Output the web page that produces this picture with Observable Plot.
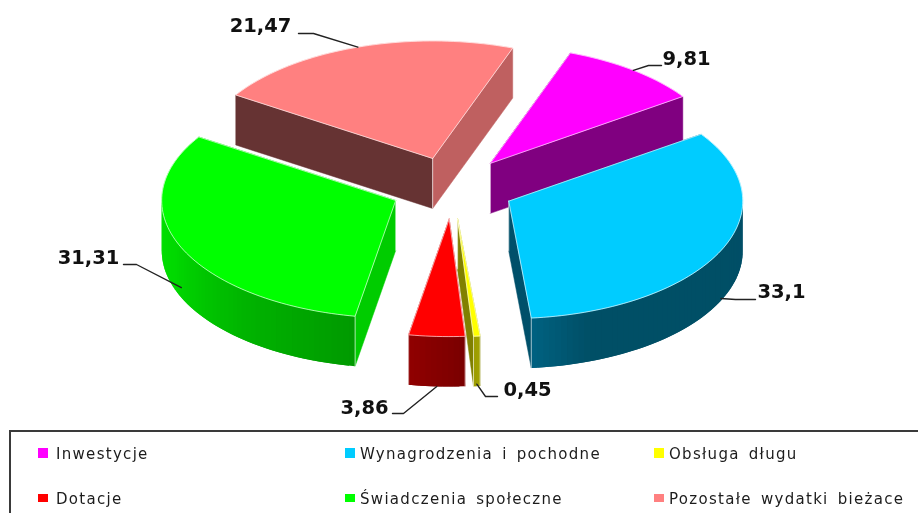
<!DOCTYPE html>
<html lang="pl">
<head>
<meta charset="utf-8">
<script src="https://cdn.jsdelivr.net/npm/d3@7"></script>
<script src="https://cdn.jsdelivr.net/npm/@observablehq/plot@0.6"></script>
<style>
html,body{margin:0;padding:0;background:#fff;overflow:hidden}
#wrap{position:relative;width:918px;height:513px;overflow:hidden;filter:blur(0.4px)}
#wrap svg{display:block;position:absolute;left:0;top:0}
#legend{position:absolute;left:9px;top:430px;width:930px;height:90px;border:2px solid #3a3a3a;box-sizing:border-box;background:#fff;
 font:15px "DejaVu Sans",sans-serif;color:#1c1c1c;letter-spacing:1.3px;word-spacing:3px}
.sw{position:absolute;width:10px;height:10px}
.lb{position:absolute;white-space:nowrap;line-height:18px}
</style>
</head>
<body>
<div id="wrap"></div>
<script>
// ---- data ----
const categories = ["Inwestycje","Wynagrodzenia i pochodne","Obsługa długu","Dotacje","Świadczenia społeczne","Pozostałe wydatki bieżace"];
const values = [9.81,33.1,0.45,3.86,31.31,21.47];
const valueLabels = ["9,81","33,1","0,45","3,86","31,31","21,47"];
const topColors = ["#ff00ff","#00ccff","#ffff00","#ff0000","#00ff00","#ff8080"];

// ---- projection of the tilted pie ----
const W = 918, H = 430;
const cx = 452, cy = 187.5, rx = 234, ry = 117.5, depth = 50, explode = 0.265, startDeg = 20;
const rad = Math.PI/180;
const slices = d3.pie().sort(null).startAngle(startDeg*rad).endAngle((startDeg+360)*rad)(values)
  .map((d,i)=>{
    const mid=(d.startAngle+d.endAngle)/2;
    return {i,a0:d.startAngle,a1:d.endAngle,mid,
      ax:cx+explode*rx*Math.sin(mid), ay:cy-explode*ry*Math.cos(mid)};
  });
const rim=(s,a,dz=0)=>[s.ax+rx*Math.sin(a), s.ay-ry*Math.cos(a)+dz];
const arcAngles=(a0,a1,step=1.5*rad)=>{const n=Math.max(1,Math.ceil((a1-a0)/step));return d3.range(n+1).map(k=>a0+(a1-a0)*k/n);};

// wall shades: radial faces (start, end) and outer wall stops [degrees, colour]
const radialShades = [["#800080","#800080"],["#00506a","#00506a"],["#808000","#808000"],["#8b0000","#8b0000"],["#00cc00","#00cc00"],["#663333","#bf6060"]];
const outerStops = [
 [[20,"#800080"],[60,"#800080"]],
 [[55,"#00506a"],[110,"#004f66"],[160,"#004f66"],[175,"#006282"]],
 [[174,"#a3a300"],[177,"#999900"]],
 [[176,"#7a0000"],[190,"#900000"]],
 [[190,"#009a00"],[220,"#00b400"],[250,"#00d800"],[303,"#00ea00"]],
 [[300,"#663333"],[380,"#663333"]]
];
const wallColor=(i,a)=>{const st=outerStops[i];return d3.scaleLinear().domain(st.map(d=>d[0]*rad)).range(st.map(d=>d[1])).interpolate(d3.interpolateRgb).clamp(true)(a);};

const edge="rgba(255,255,255,0.62)";
const fillMark=(rows,sw=0.5)=>Plot.line(rows.map(([x,y,z,c])=>({x,y,z,c})),{x:"x",y:"y",z:"z",fill:"c",stroke:"c",strokeWidth:sw});
const strokeMark=(rows)=>Plot.line(rows,{x:"x",y:"y",z:"z",stroke:edge,strokeWidth:1});

const sliceMarks=(s)=>{
  const marks=[];
  const radial=(a,col,id)=>{const p=rim(s,a),q=rim(s,a,depth);
    return [[s.ax,s.ay,id,col],[p[0],p[1],id,col],[q[0],q[1],id,col],[s.ax,s.ay+depth,id,col]];};
  marks.push(fillMark(radial(s.a0,radialShades[s.i][0],"r0")));
  marks.push(fillMark(radial(s.a1,radialShades[s.i][1],"r1")));
  // front-facing part of the outer wall, in overlapping strips so the shade can change with angle
  const from=Math.max(s.a0,90*rad), to=Math.min(s.a1,270*rad);
  if(to>from){
    const angs=arcAngles(from,to); const rows=[];
    d3.pairs(angs).forEach(([a,b],k)=>{
      const c=wallColor(s.i,(a+b)/2), next=angs[Math.min(k+2,angs.length-1)];
      const p0=rim(s,a),p1=rim(s,next),q1=rim(s,next,depth),q0=rim(s,a,depth);
      [p0,p1,q1,q0].forEach(p=>rows.push([p[0],p[1],"w"+String(k).padStart(4,"0"),c]));
    });
    marks.push(fillMark(rows,0));
  }
  // light vertical edges, where they face the viewer
  const vs=[];
  [s.a0,s.a1].forEach((a,k)=>{ if(Math.cos(a)<0){const p=rim(s,a),q=rim(s,a,depth);vs.push({x:p[0],y:p[1],z:k},{x:q[0],y:q[1],z:k});}});
  vs.push({x:s.ax,y:s.ay,z:"c"},{x:s.ax,y:s.ay+depth,z:"c"});
  marks.push(strokeMark(vs));
  // top face
  const outline=[[s.ax,s.ay],...arcAngles(s.a0,s.a1).map(a=>rim(s,a)),[s.ax,s.ay]].map(([x,y])=>({x,y}));
  const col=topColors[s.i];
  marks.push(Plot.line(outline,{x:"x",y:"y",fill:col,stroke:col,strokeWidth:0.5}));
  marks.push(Plot.line(outline,{x:"x",y:"y",stroke:edge,strokeWidth:1}));
  return marks;
};

// ---- labels: layout table (text centre, elbow of the leader) ----
const labelLayout = [
 {tx:686,ty:58,ex:[661,648],ey:65,dz:0,lift:0},
 {tx:781,ty:291,ex:[755,735],ey:299,dz:1,lift:-2},
 {tx:527,ty:389,ex:[497,485],ey:396,dz:1,lift:-2},
 {tx:364,ty:407,ex:[392,403],ey:413,dz:1,lift:0},
 {tx:88,ty:257,ex:[123,136],ey:264,dz:1,lift:-10},
 {tx:260,ty:25,ex:[298,313],ey:33,dz:0,lift:0}
];
const leaders=slices.flatMap(s=>{
  const L=labelLayout[s.i],r=rim(s,s.mid,L.dz*depth+L.lift);
  return [{x:L.ex[0],y:L.ey,z:s.i},{x:L.ex[1],y:L.ey,z:s.i},{x:r[0],y:r[1],z:s.i}];
});
const texts=slices.map(s=>({x:labelLayout[s.i].tx,y:labelLayout[s.i].ty,t:valueLabels[s.i]}));

const order=[5,0,4,1,2,3];
const chart=Plot.plot({
  width:W,height:H,margin:0,
  x:{domain:[0,W],range:[0,W],axis:null},
  y:{domain:[0,H],range:[0,H],axis:null},
  color:{type:"identity"},
  style:{background:"transparent",overflow:"visible"},
  marks:[
    ...order.flatMap(i=>sliceMarks(slices[i])),
    Plot.line(leaders,{x:"x",y:"y",z:"z",stroke:"#222",strokeWidth:1.4}),
    Plot.text(texts,{x:"x",y:"y",text:"t",fontFamily:"DejaVu Sans",fontWeight:"bold",fontSize:19.5,fill:"#111"})
  ]
});
const wrap=document.getElementById("wrap");
wrap.appendChild(chart);

// ---- legend ----
const legendCols=[[27,45],[334,349],[643,658]];
const legendRows=[[16,13],[62,58]];
const legend=document.createElement("div");legend.id="legend";
categories.forEach((c,i)=>{
  const col=legendCols[i%3],row=legendRows[Math.floor(i/3)];
  const sw=document.createElement("div");sw.className="sw";sw.style.cssText=`left:${col[0]}px;top:${row[0]}px;background:${topColors[i]};height:${i<3?10:8}px`;
  const lb=document.createElement("div");lb.className="lb";lb.textContent=c;lb.style.cssText=`left:${col[1]}px;top:${row[1]}px`;
  legend.append(sw,lb);
});
wrap.appendChild(legend);
</script>
</body>
</html>
